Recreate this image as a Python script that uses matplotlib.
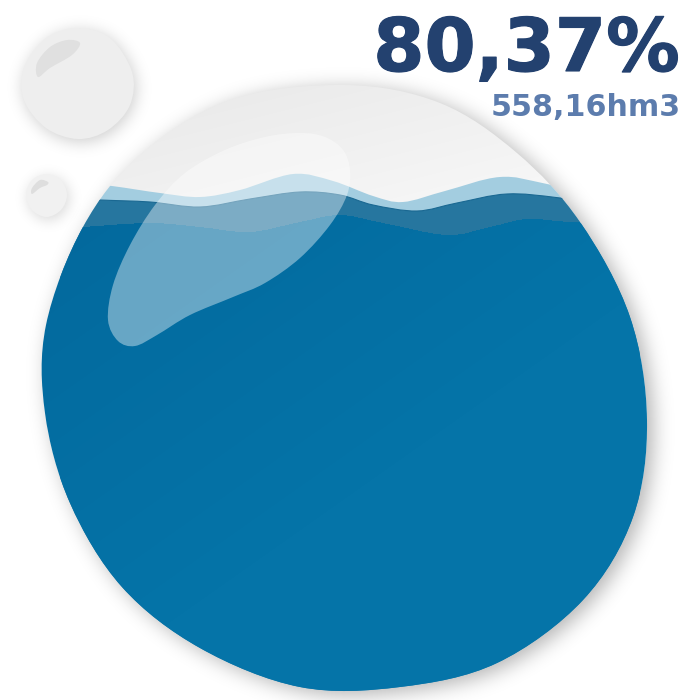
import numpy as np
import matplotlib
matplotlib.use('Agg')
import matplotlib.pyplot as plt
import matplotlib.patheffects as pe
from matplotlib.path import Path
from matplotlib.patches import PathPatch

pct_label = '80,37%'
volume_label = '558,16hm3'

# outlines, picture pixels
drop_x = [345, 440, 517, 580, 630, 647, 633, 583, 497, 400, 300, 200, 122, 70, 45, 46, 83, 140, 230]
drop_y = [85, 103, 153, 222, 317, 420, 517, 600, 663, 687, 687, 648, 587, 503, 413, 325, 227, 155, 100]

light_x = [60, 112, 160, 200, 240, 293, 333, 373, 403, 445, 500, 547, 640]
light_y = [180, 186, 193, 197, 190, 174, 181, 196, 202, 191, 177, 184, 205]
dark_x = [60, 100, 150, 200, 250, 300, 340, 373, 417, 457, 507, 560, 640]
dark_y = [198, 200, 202, 207, 199, 192, 195, 205, 211, 203, 194, 198, 210]
water_x = [40, 83, 150, 200, 250, 300, 340, 383, 447, 490, 527, 570, 650]
water_y = [230, 227, 223, 227, 232, 222, 215, 223, 235, 227, 219, 222, 226]

shine_x = [350, 343, 325, 300, 265, 225, 185, 155, 130, 113, 108, 118, 135, 157, 190, 233, 265, 300, 330, 347]
shine_y = [170, 150, 137, 133, 137, 150, 173, 205, 245, 285, 320, 341, 346, 335, 315, 297, 283, 258, 225, 195]

big_x = [78, 110, 132, 130, 108, 78, 46, 24, 24, 46]
big_y = [28, 38, 72, 105, 130, 139, 128, 100, 68, 38]
big_glint_x = [80, 67, 50, 37, 38, 50, 72]
big_glint_y = [43, 40, 47, 63, 77, 68, 55]

small_x = [46.5, 61, 67, 61, 46.5, 32, 26, 32]
small_y = [174, 180, 195, 210, 217, 210, 195, 180]
small_glint_x = [48, 40, 32, 32, 40, 47]
small_glint_y = [182, 180, 188, 194, 188, 185]


def smooth_closed(xs, ys):
    p = np.column_stack([xs, ys]).astype(float)
    n = len(p)
    verts = [p[0]]
    codes = [Path.MOVETO]
    for i in range(n):
        p0, p1, p2, p3 = p[i - 1], p[i], p[(i + 1) % n], p[(i + 2) % n]
        verts += [p1 + (p2 - p0) / 6, p2 - (p3 - p1) / 6, p2]
        codes += [Path.CURVE4] * 3
    return Path(verts, codes)


def smooth_open(xs, ys):
    p = np.column_stack([xs, ys]).astype(float)
    verts = [p[0]]
    codes = [Path.MOVETO]
    for i in range(len(p) - 1):
        p0 = p[max(i - 1, 0)]
        p1, p2 = p[i], p[i + 1]
        p3 = p[min(i + 2, len(p) - 1)]
        verts += [p1 + (p2 - p0) / 6, p2 - (p3 - p1) / 6, p2]
        codes += [Path.CURVE4] * 3
    return verts, codes


def wave(xs, ys):
    verts, codes = smooth_open(xs, ys)
    verts = verts + [(xs[-1], 700), (xs[0], 700), (xs[0], ys[0])]
    codes = codes + [Path.LINETO, Path.LINETO, Path.LINETO]
    return Path(verts, codes)


def pixel_mask(path):
    c = np.arange(700) + 0.5
    gx, gy = np.meshgrid(c, c)
    pts = np.column_stack([gx.ravel(), gy.ravel()])
    return path.contains_points(pts).reshape(700, 700).astype(float)


def blur(a, sigma):
    r = int(sigma * 3)
    k = np.exp(-0.5 * (np.arange(-r, r + 1) / sigma) ** 2)
    k /= k.sum()
    a = np.apply_along_axis(lambda v: np.convolve(v, k, mode='same'), 0, a)
    return np.apply_along_axis(lambda v: np.convolve(v, k, mode='same'), 1, a)


def shadow(ax, xs, ys, dx, dy, sigma, strength):
    m = blur(pixel_mask(smooth_closed(np.array(xs) + dx, np.array(ys) + dy)), sigma)
    rgba = np.zeros((700, 700, 4))
    rgba[..., 3] = m * strength
    ax.imshow(rgba, extent=(0, 700, 700, 0), zorder=1, aspect='auto')


def gradient(c0, c1, x0, x1, y0, y1):
    c = np.arange(700) + 0.5
    gx, gy = np.meshgrid(c, c)
    t = np.clip((((gx - x0) / (x1 - x0)) + ((gy - y0) / (y1 - y0))) / 2, 0, 1)[..., None]
    c0 = np.array(matplotlib.colors.to_rgb(c0))
    c1 = np.array(matplotlib.colors.to_rgb(c1))
    return c0 + (c1 - c0) * t


fig = plt.figure(figsize=(7, 7), dpi=100)
ax = fig.add_axes([0, 0, 1, 1])

drop_path = smooth_closed(drop_x, drop_y)
drop_patch = PathPatch(drop_path, fc='none', ec='none', transform=ax.transData)

shadow(ax, drop_x, drop_y, 6, 4, 10, 0.3)
shadow(ax, big_x, big_y, 2, 3, 8, 0.2)
shadow(ax, small_x, small_y, 2, 3, 7, 0.16)

glass = ax.imshow(gradient('#e8e8e8', '#f8f8f8', 100, 560, 85, 200), extent=(0, 700, 700, 0), zorder=2, aspect='auto')
glass.set_clip_path(drop_patch)

for xs, ys, c, z in [(light_x, light_y, '#a3cde0', 3), (dark_x, dark_y, '#26769f', 4)]:
    p = PathPatch(wave(xs, ys), fc=c, ec='none', zorder=z)
    ax.add_patch(p)
    p.set_clip_path(drop_patch)

edge_verts, edge_codes = smooth_open(dark_x, dark_y)
edge = PathPatch(Path(edge_verts, edge_codes), fc='none', ec='#1a6892', lw=0.8, zorder=4.5)
ax.add_patch(edge)
edge.set_clip_path(drop_patch)

# water body, masked to the wave line here and clipped to the drop below
water_rgba = np.dstack([gradient('#03699d', '#0574a8', 60, 400, 220, 460), pixel_mask(wave(water_x, water_y))])
water = ax.imshow(water_rgba, extent=(0, 700, 700, 0), zorder=5, aspect='auto', interpolation='bilinear')
water.set_clip_path(drop_patch)

ax.add_patch(PathPatch(smooth_closed(shine_x, shine_y), fc='white', ec='none', alpha=0.4, zorder=7))

ax.add_patch(PathPatch(smooth_closed(big_x, big_y), fc='#eeeeee', ec='none', zorder=3))
ax.add_patch(PathPatch(smooth_closed(big_glint_x, big_glint_y), fc='#e0e0e0', ec='none', zorder=3.5))
ax.add_patch(PathPatch(smooth_closed(small_x, small_y), fc='#f1f1f1', ec='none', zorder=3))
ax.add_patch(PathPatch(smooth_closed(small_glint_x, small_glint_y), fc='#dedede', ec='none', zorder=3.5))

ax.text(680, 71, pct_label, ha='right', va='baseline', fontsize=53, fontweight='bold', color='#23416f',
        family='DejaVu Sans', zorder=8, path_effects=[pe.withStroke(linewidth=0.8, foreground='#23416f')])
ax.text(681, 116, volume_label, ha='right', va='baseline', fontsize=21.7, fontweight='bold', color='#5c7cad',
        family='DejaVu Sans', zorder=8)

ax.set_xlim(0, 700)
ax.set_ylim(700, 0)
ax.axis('off')
fig.savefig('out.png', dpi=100, facecolor='white')
